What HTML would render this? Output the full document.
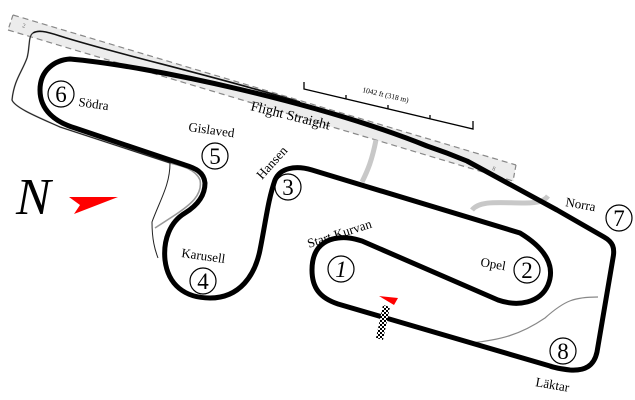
<!DOCTYPE html>
<html><head><meta charset="utf-8"><style>
html,body{margin:0;padding:0;background:#fff;}
svg{display:block;font-family:"Liberation Serif",serif;}
</style></head><body>
<svg width="635" height="400" viewBox="0 0 635 400" xmlns="http://www.w3.org/2000/svg">
<!-- runway -->
<polygon points="13,15 516,165 513,181 8,30" fill="#ececec"/>
<path d="M13,15 L516,165 M8,30 L513,181" stroke="#888" stroke-width="1.2" stroke-dasharray="6,4" fill="none"/>
<path d="M13,15 L8,30 M516,165 L513,181" stroke="#888" stroke-width="1.2" stroke-dasharray="5,3" fill="none"/>
<text x="22" y="27" font-size="6" fill="#666" transform="rotate(16 22 27)">2</text>
<text x="492" y="170" font-size="6" fill="#666" transform="rotate(16 492 170)">8</text>
<!-- service roads gray -->
<path d="M376,140 C372,160 368,170 362,182" stroke="#c8c8c8" stroke-width="5" fill="none"/>
<path d="M472,210 C480,200 500,203 525,203 C540,203 545,200 548,196" stroke="#c8c8c8" stroke-width="5" fill="none"/>
<!-- thin outer lines -->
<path d="M33,33 C28,36 30,48 27,58 C22,72 14,80 12,100 C15,108 40,118 60,127 L170,163 C178,165 195,168 200,180 C203,195 190,205 175,215 L155,228" stroke="#999" stroke-width="1.6" fill="none"/>
<path d="M33,33 C28,36 30,48 27,58 C22,72 14,80 12,100 C15,108 40,118 60,127 L170,163 C170,185 160,200 152,222 C152,240 155,250 158,258" stroke="#222" stroke-width="1" fill="none"/>
<path d="M33,33 C38,30 45,31 60,36 C120,55 200,72 300,102" stroke="#111" stroke-width="1.6" fill="none"/>
<path d="M470,343 C500,340 520,335 545,318 C565,300 575,297 598,297" stroke="#888" stroke-width="1.2" fill="none"/>
<!-- main track -->
<path d="M427,146 C445,152 455,156 467,161 L557,210 L604,237 C613,242 615,248 613,258 L597,352 C594,366 585,371 570,370 C562,369 555,368 550,366 L338,304 C320,298 312,288 312,270 C312,250 322,240 338,238 C346,237 352,238 362,241 L498,300 C518,307 540,303 548,285 C555,268 548,250 520,233 L312,170 C295,165 280,168 275,180 C268,200 266,220 260,250 C255,275 240,298 210,298 C185,298 168,285 165,260 C163,240 170,222 185,213 C198,205 205,195 205,183 C204,172 195,168 185,165 L75,128 C55,122 40,110 40,90 C40,70 55,60 70,59 C150,66 320,103 427,146 Z" stroke="#000" stroke-width="5" fill="none" stroke-linejoin="round"/>
<!-- scale bar -->
<path d="M304,82 L304,89 L473,129 L473,121 M346,99 L346,95 M388,109 L388,105 M430,119 L430,115" stroke="#000" stroke-width="1.3" fill="none"/>
<text x="362" y="92" font-size="7.5" transform="rotate(13 362 92)">1042 ft (318 m)</text>
<!-- labels -->
<text x="250" y="110" font-size="14" transform="rotate(14 250 110)">Flight Straight</text>
<g fill="none" stroke="#000" stroke-width="1.2">
<circle cx="61" cy="94" r="13"/><circle cx="215" cy="156" r="13"/><circle cx="288" cy="187" r="13"/>
<circle cx="203" cy="281" r="13"/><circle cx="341" cy="269" r="13"/><circle cx="527" cy="270" r="13"/>
<circle cx="619" cy="218" r="13"/><circle cx="563" cy="351" r="13"/></g>
<g font-size="23" text-anchor="middle">
<text x="61" y="102">6</text><text x="215" y="164">5</text><text x="288" y="195">3</text>
<text x="203" y="289">4</text><text x="341" y="277" font-style="italic">1</text><text x="527" y="278">2</text>
<text x="619" y="226">7</text><text x="563" y="359">8</text></g>
<g font-size="13">
<text x="78" y="106" transform="rotate(8 78 106)">Södra</text>
<text x="188" y="131" transform="rotate(8 188 131)">Gislaved</text>
<text x="262" y="180" transform="rotate(-48 262 180)">Hansen</text>
<text x="181" y="257" transform="rotate(8 181 257)">Karusell</text>
<text x="309" y="248" transform="rotate(-18 309 248)">Start Kurvan</text>
<text x="480" y="266" transform="rotate(10 480 266)">Opel</text>
<text x="565" y="206" transform="rotate(10 565 206)">Norra</text>
<text x="535" y="386" transform="rotate(10 535 386)">Läktar</text>
</g>
<!-- N arrow -->
<text x="16" y="214" font-size="52" font-style="italic">N</text>
<polygon points="69,197 118,197 74,214 80,205" fill="#f00"/>
<!-- flag -->
<defs><pattern id="ck" width="4" height="4" patternUnits="userSpaceOnUse"><rect width="4" height="4" fill="#fff"/><rect width="2" height="2" fill="#000"/><rect x="2" y="2" width="2" height="2" fill="#000"/></pattern></defs>
<polygon points="383,305 390,307 383,340 376,338" fill="url(#ck)"/>
<polygon points="379,296 398,298 394,305" fill="#f00"/>
</svg>
</body></html>
